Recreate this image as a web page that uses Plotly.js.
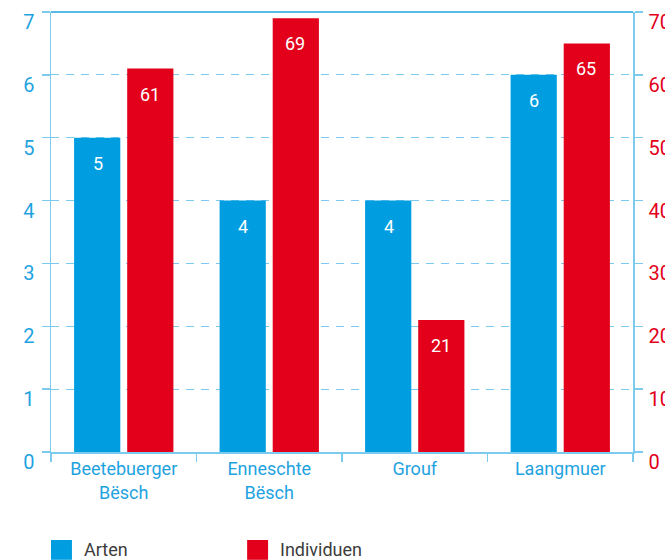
<!DOCTYPE html>
<html><head><meta charset="utf-8">
<script src="https://cdn.plot.ly/plotly-3.0.1.min.js"></script>
<style>html,body{margin:0;padding:0;background:#fff}#chart{width:665px;height:560px}</style>
</head><body><div id="chart"></div>
<script>
const categories = ["Beetebuerger<br>Bësch", "Enneschte<br>Bësch", "Grouf", "Laangmuer"];
const seriesNames = ["Arten", "Individuen"];
const arten = [5, 4, 4, 6];
const individuen = [61, 69, 21, 65];
const leftTicks = [0, 1, 2, 3, 4, 5, 6, 7];
const rightTicks = [0, 10, 20, 30, 40, 50, 60, 70];

const BLUE = "#009EE0", RED = "#E2001A", LBLUE = "#7ccbef", TBLUE = "#1fa3df";
const FONT = "Roboto, 'Liberation Sans', sans-serif";

const traces = [
  {type: "bar", name: seriesNames[0], x: categories, y: arten, marker: {color: BLUE}, yaxis: "y", offsetgroup: "a", hoverinfo: "none"},
  {type: "bar", name: seriesNames[1], x: categories, y: individuen, marker: {color: RED}, yaxis: "y2", offsetgroup: "b", hoverinfo: "none"}
];

const annotations = [];
categories.forEach((c, i) => {
  annotations.push({x: c, y: arten[i], xref: "x", yref: "y", text: String(arten[i]), showarrow: false,
    yanchor: "top", yshift: -13, xshift: -26, font: {color: "#fff", size: 18, family: FONT}});
  annotations.push({x: c, y: individuen[i], xref: "x", yref: "y2", text: String(individuen[i]), showarrow: false,
    yanchor: "top", yshift: -13, xshift: 26, font: {color: "#fff", size: 18, family: FONT}});
});
// legend
const legendColors = [BLUE, RED];
const legendX = [0, 0.337];
const shapes = [
  {type: "line", xref: "paper", yref: "paper", x0: 0, x1: 1, y0: 1, y1: 1, line: {color: TBLUE, width: 1.5}}
];
seriesNames.forEach((n, i) => {
  shapes.push({type: "rect", xref: "paper", yref: "paper", x0: legendX[i], x1: legendX[i] + 0.036, y0: -0.245, y1: -0.2, fillcolor: legendColors[i], line: {width: 0}});
  annotations.push({xref: "paper", yref: "paper", x: legendX[i] + 0.053, y: -0.222, xanchor: "left", yanchor: "middle",
    text: n, showarrow: false, font: {color: "#3c3c3c", size: 18, family: FONT}});
});

const layout = {
  width: 665, height: 560,
  margin: {l: 51, r: 32, t: 12, b: 108},
  paper_bgcolor: "#fff", plot_bgcolor: "#fff",
  font: {family: FONT, size: 18},
  showlegend: false,
  barmode: "group", bargap: 0.27, bargroupgap: 0.13,
  xaxis: {type: "category", showline: true, linecolor: LBLUE, linewidth: 1.5, ticks: "outside", tickson: "boundaries",
    ticklen: 8, tickcolor: LBLUE, tickwidth: 1.5, showgrid: false, tickfont: {color: TBLUE, size: 18, family: FONT}, zeroline: false},
  yaxis: {range: [0, 7], tickvals: leftTicks, ticktext: leftTicks.map(String), showline: true, linecolor: LBLUE, linewidth: 1.5,
    ticks: "outside", ticklen: 8, tickcolor: LBLUE, tickwidth: 1.5, showgrid: true, gridcolor: LBLUE, griddash: "8px,7px", gridwidth: 1,
    zeroline: false, tickfont: {color: TBLUE, size: 20, family: FONT}, ticklabelstandoff: 3, ticklabelshift: 10},
  yaxis2: {range: [0, 70], tickvals: rightTicks, ticktext: rightTicks.map(String), overlaying: "y", side: "right", showline: true,
    linecolor: LBLUE, linewidth: 1.5, ticks: "outside", ticklen: 8, tickcolor: LBLUE, tickwidth: 1.5, showgrid: false, zeroline: false,
    tickfont: {color: RED, size: 20, family: FONT}, ticklabelstandoff: 2, ticklabelshift: 10},
  annotations: annotations,
  shapes: shapes
};
Plotly.newPlot("chart", traces, layout, {displayModeBar: false, staticPlot: true});
</script></body></html>
